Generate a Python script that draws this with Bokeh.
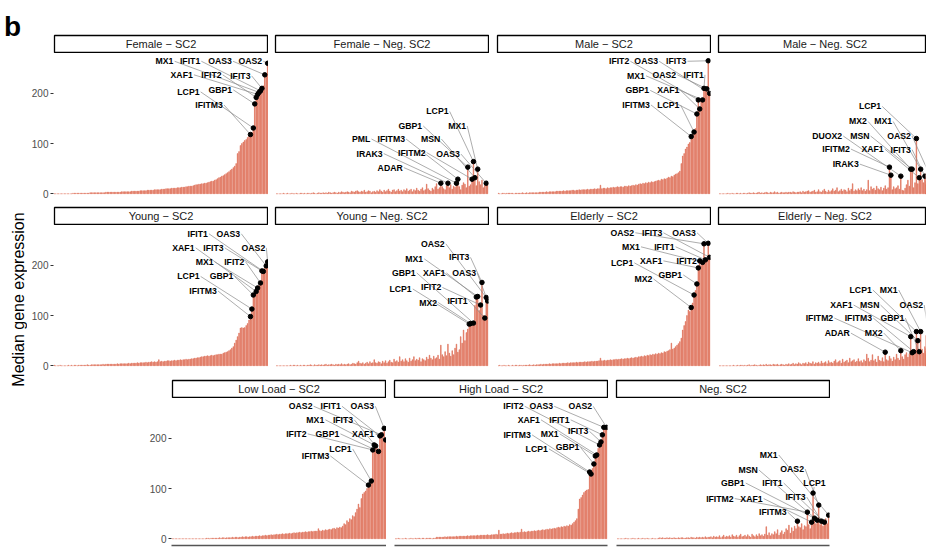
import math
from bokeh.plotting import figure
from bokeh.layouts import row, column
from bokeh.models import Range1d, FixedTicker, LinearAxis, Spacer, Label
from bokeh.core.properties import value
from bokeh.embed import file_html
from bokeh.resources import INLINE

N_GENES = 150
bar_index = list(range(1, N_GENES + 1))
y_ticks = [0, 100, 200]

# ---------------- data (median expression per gene, ordered as in the figure) -------------
female_sc2_vals = [
    0, 0, 0, 0, 0, 0, 0, 0, 0, 0,
    0, 0, 0, 1, 1, 1, 1, 1, 1, 1,
    1, 1, 1, 1, 1, 2, 2, 2, 2, 2,
    2, 2, 2, 2, 2, 2, 3, 3, 3, 3,
    3, 3, 3, 3, 3, 3, 3, 4, 4, 4,
    4, 4, 4, 4, 5, 5, 5, 5, 5, 5,
    6, 6, 6, 6, 6, 7, 7, 7, 7, 7,
    8, 8, 8, 8, 8, 9, 9, 9, 10, 10,
    10, 10, 11, 11, 11, 11, 12, 12, 12, 13,
    13, 13, 14, 14, 15, 15, 15, 16, 17, 18,
    18, 19, 19, 20, 20, 21, 21, 22, 23, 24,
    25, 25, 27, 28, 30, 32, 33, 35, 36, 38,
    40, 42, 44, 47, 49, 52, 55, 60, 80, 84,
    96, 100, 103, 106, 108, 112, 115, 118, 122, 131,
    179, 192, 198, 202, 205, 210, 215, 237, 240, 260]
female_sc2_genes = ["MX1", "IFIT1", "OAS3", "OAS2", "XAF1", "IFIT2", "IFIT3", "LCP1", "GBP1", "IFITM3"]
female_sc2_gene_bar = [144, 145, 148, 150, 143, 142, 146, 140, 141, 138]

female_neg_vals = [
    0, 0, 0, 0, 0, 1, 0, 0, 1, 0,
    0, 1, 0, 0, 1, 0, 0, 1, 1, 0,
    1, 0, 1, 1, 0, 1, 2, 1, 0, 1,
    2, 1, 1, 2, 1, 2, 1, 3, 2, 1,
    2, 3, 2, 1, 3, 2, 4, 3, 2, 3,
    4, 3, 2, 5, 4, 3, 5, 6, 4, 3,
    5, 4, 7, 3, 4, 6, 5, 2, 4, 5,
    3, 6, 4, 8, 5, 3, 7, 4, 6, 9,
    5, 3, 7, 8, 4, 6, 9, 5, 7, 4,
    8, 6, 10, 5, 7, 9, 4, 8, 6, 11,
    7, 5, 9, 12, 6, 8, 19, 10, 7, 5,
    11, 8, 14, 20, 9, 12, 21, 14, 10, 8,
    16, 21, 12, 18, 9, 15, 13, 21, 29, 14,
    8, 17, 22, 19, 12, 53, 15, 18, 29, 64,
    32, 16, 49, 24, 18, 27, 12, 20, 21, 22]
female_neg_genes = ["LCP1", "GBP1", "MX1", "PML", "IFITM3", "MSN", "IRAK3", "IFITM2", "OAS3", "ADAR"]
female_neg_gene_bar = [140, 136, 143, 128, 129, 141, 122, 139, 149, 117]

male_sc2_vals = [
    1, 0, 0, 1, 1, 0, 1, 1, 1, 1,
    1, 0, 1, 1, 1, 1, 1, 2, 1, 1,
    2, 1, 2, 2, 2, 2, 2, 2, 2, 3,
    3, 3, 3, 3, 4, 3, 4, 4, 4, 4,
    4, 5, 5, 5, 5, 5, 6, 5, 6, 6,
    6, 6, 7, 7, 6, 7, 7, 8, 7, 8,
    8, 8, 8, 9, 8, 9, 9, 9, 10, 9,
    10, 10, 17, 10, 11, 11, 10, 12, 11, 12,
    12, 13, 12, 13, 14, 13, 14, 14, 13, 15,
    15, 14, 16, 15, 16, 17, 16, 18, 17, 19,
    20, 19, 21, 20, 22, 21, 23, 22, 24, 23,
    24, 25, 26, 27, 26, 29, 28, 30, 29, 31,
    33, 32, 35, 34, 37, 39, 40, 42, 45, 60,
    75, 80, 89, 93, 99, 102, 114, 118, 123, 130,
    159, 187, 169, 185, 187, 210, 205, 209, 265, 200]
male_sc2_genes = ["IFIT2", "OAS3", "IFIT3", "MX1", "OAS2", "IFIT1", "GBP1", "XAF1", "IFITM3", "LCP1"]
male_sc2_gene_bar = [142, 150, 149, 145, 148, 146, 141, 143, 137, 139]

male_neg_vals = [
    0, 0, 0, 0, 0, 0, 1, 0, 0, 1,
    0, 0, 1, 1, 0, 1, 0, 1, 1, 0,
    1, 2, 1, 1, 2, 1, 1, 2, 3, 1,
    2, 1, 2, 3, 2, 1, 3, 2, 2, 4,
    2, 3, 1, 2, 3, 2, 2, 3, 2, 3,
    3, 2, 4, 3, 2, 3, 3, 4, 2, 5,
    3, 4, 5, 6, 3, 4, 5, 7, 3, 4,
    8, 4, 3, 6, 9, 5, 3, 7, 4, 6,
    10, 5, 7, 12, 4, 6, 9, 5, 8, 7,
    4, 11, 6, 9, 20, 5, 8, 6, 10, 7,
    12, 6, 9, 5, 8, 27, 6, 14, 9, 11,
    7, 15, 10, 8, 13, 6, 11, 16, 9, 12,
    53, 37, 8, 14, 10, 12, 16, 9, 35, 7,
    6, 11, 18, 27, 15, 49, 49, 12, 22, 110,
    20, 32, 49, 28, 22, 35, 18, 25, 40, 30]
male_neg_genes = ["LCP1", "MX2", "MX1", "DUOX2", "MSN", "OAS2", "IFITM2", "XAF1", "IFIT3", "IRAK3"]
male_neg_gene_bar = [140, 136, 143, 129, 137, 149, 121, 142, 146, 122]

young_sc2_vals = [
    1, 0, 0, 0, 1, 0, 0, 0, 0, 0,
    1, 0, 1, 0, 1, 1, 0, 1, 1, 1,
    1, 1, 1, 2, 1, 1, 2, 2, 2, 2,
    2, 2, 2, 2, 3, 2, 3, 3, 3, 3,
    3, 3, 3, 3, 4, 3, 4, 4, 4, 4,
    4, 4, 5, 4, 5, 5, 5, 5, 6, 5,
    6, 6, 6, 6, 7, 6, 7, 7, 8, 7,
    8, 7, 8, 12, 8, 9, 8, 9, 9, 10,
    10, 9, 10, 10, 11, 10, 11, 11, 12, 11,
    12, 12, 13, 12, 13, 13, 14, 14, 15, 15,
    16, 16, 17, 18, 18, 19, 19, 20, 19, 20,
    21, 20, 21, 22, 22, 23, 23, 23, 25, 26,
    27, 28, 30, 32, 35, 38, 45, 51, 58, 65,
    75, 76, 75, 76, 80, 84, 91, 98, 113, 141,
    145, 148, 155, 160, 165, 189, 188, 195, 199, 207]
young_sc2_genes = ["IFIT1", "OAS3", "XAF1", "IFIT3", "OAS2", "MX1", "IFIT2", "LCP1", "GBP1", "IFITM3"]
young_sc2_gene_bar = [147, 149, 142, 146, 150, 143, 145, 139, 140, 138]

young_neg_vals = [
    0, 0, 0, 0, 0, 0, 0, 0, 0, 0,
    1, 0, 1, 1, 0, 1, 0, 1, 0, 1,
    1, 0, 1, 1, 2, 1, 0, 2, 1, 1,
    2, 1, 2, 1, 2, 3, 1, 2, 2, 3,
    2, 1, 3, 2, 3, 2, 4, 2, 3, 2,
    3, 4, 2, 3, 5, 4, 3, 6, 9, 5,
    4, 6, 3, 5, 7, 4, 8, 5, 6, 12,
    6, 5, 8, 7, 4, 9, 6, 10, 5, 8,
    11, 7, 6, 13, 8, 10, 7, 18, 9, 12,
    8, 14, 10, 7, 15, 9, 12, 18, 10, 13,
    11, 16, 8, 14, 12, 10, 17, 13, 21, 15,
    12, 19, 14, 16, 21, 13, 41, 22, 18, 28,
    20, 43, 25, 19, 30, 22, 35, 43, 27, 32,
    58, 45, 71, 50, 66, 73, 83, 84, 80, 85,
    120, 137, 138, 110, 121, 166, 100, 95, 136, 129]
young_neg_genes = ["OAS2", "IFIT3", "MX1", "GBP1", "XAF1", "OAS3", "LCP1", "IFIT2", "MX2", "IFIT1"]
young_neg_gene_bar = [149, 146, 143, 140, 142, 150, 137, 145, 138, 148]

elderly_sc2_vals = [
    0, 1, 0, 0, 1, 0, 0, 1, 0, 0,
    1, 0, 1, 1, 0, 1, 1, 0, 1, 1,
    1, 1, 2, 1, 1, 2, 1, 2, 2, 2,
    3, 2, 3, 3, 3, 3, 4, 3, 4, 4,
    4, 4, 4, 5, 4, 5, 5, 5, 5, 6,
    5, 6, 6, 6, 6, 7, 6, 7, 7, 7,
    7, 8, 7, 8, 8, 8, 9, 8, 9, 9,
    9, 10, 15, 10, 10, 11, 10, 11, 11, 12,
    11, 12, 12, 13, 12, 13, 13, 14, 13, 14,
    14, 15, 14, 15, 16, 15, 16, 17, 16, 18,
    18, 19, 18, 20, 19, 21, 20, 22, 21, 23,
    22, 24, 23, 25, 24, 26, 25, 28, 27, 29,
    30, 32, 45, 33, 35, 38, 41, 44, 48, 55,
    71, 80, 88, 100, 111, 108, 116, 125, 141, 150,
    163, 195, 209, 200, 206, 243, 211, 215, 244, 216]
elderly_sc2_genes = ["OAS2", "IFIT3", "OAS3", "MX1", "IFIT1", "XAF1", "IFIT2", "LCP1", "GBP1", "MX2"]
elderly_sc2_gene_bar = [146, 150, 149, 145, 147, 142, 143, 139, 141, 137]

elderly_neg_vals = [
    0, 0, 0, 0, 0, 0, 0, 0, 0, 0,
    1, 0, 0, 1, 0, 1, 1, 0, 1, 0,
    1, 2, 0, 1, 1, 2, 1, 0, 1, 2,
    1, 2, 1, 3, 1, 2, 2, 1, 3, 2,
    2, 3, 1, 2, 3, 2, 1, 3, 2, 4,
    2, 3, 5, 2, 4, 3, 6, 4, 2, 5,
    4, 6, 3, 7, 5, 4, 8, 3, 6, 5,
    7, 4, 9, 5, 6, 8, 4, 10, 6, 7,
    5, 9, 12, 6, 8, 10, 5, 13, 7, 9,
    11, 6, 15, 8, 10, 12, 7, 9, 14, 8,
    10, 6, 12, 9, 23, 15, 8, 11, 22, 10,
    13, 7, 19, 11, 9, 16, 8, 27, 12, 10,
    19, 14, 9, 17, 12, 23, 15, 11, 30, 18,
    13, 22, 26, 17, 24, 58, 26, 28, 30, 68,
    50, 28, 68, 33, 25, 38, 29, 22, 60, 34]
elderly_neg_genes = ["LCP1", "MX1", "XAF1", "MSN", "OAS2", "IFITM2", "IFITM3", "GBP1", "ADAR", "MX2"]
elderly_neg_gene_bar = [140, 143, 136, 141, 149, 137, 138, 142, 118, 129]

low_load_vals = [
    0, 0, 0, 0, 0, 0, 0, 0, 0, 0,
    0, 0, 0, 0, 0, 0, 0, 0, 0, 0,
    0, 0, 0, 0, 1, 1, 0, 1, 1, 1,
    1, 1, 1, 2, 1, 2, 2, 1, 2, 2,
    2, 2, 3, 2, 3, 3, 2, 3, 3, 4,
    3, 4, 4, 3, 4, 4, 5, 4, 5, 5,
    5, 6, 5, 6, 6, 7, 6, 7, 7, 8,
    7, 8, 8, 9, 8, 9, 9, 10, 9, 10,
    10, 10, 11, 10, 11, 12, 11, 12, 12, 13,
    12, 13, 13, 14, 13, 14, 14, 15, 14, 15,
    15, 15, 20, 16, 15, 17, 16, 18, 17, 18,
    19, 18, 20, 21, 19, 22, 21, 23, 22, 25,
    30, 28, 36, 33, 40, 38, 46, 44, 52, 59,
    69, 62, 80, 89, 92, 95, 100, 107, 110, 115,
    177, 187, 185, 180, 174, 205, 207, 212, 220, 197]
low_load_genes = ["OAS2", "IFIT1", "OAS3", "MX1", "IFIT3", "IFIT2", "GBP1", "XAF1", "LCP1", "IFITM3"]
low_load_gene_bar = [147, 146, 149, 142, 143, 141, 145, 150, 140, 138]

high_load_vals = [
    0, 0, 1, 0, 0, 0, 0, 1, 0, 0,
    0, 1, 0, 0, 1, 0, 1, 1, 0, 1,
    1, 0, 1, 1, 1, 1, 0, 1, 1, 3,
    3, 3, 3, 3, 3, 4, 3, 4, 4, 4,
    4, 4, 4, 5, 4, 5, 5, 5, 5, 5,
    5, 6, 5, 6, 6, 6, 6, 6, 7, 6,
    7, 7, 7, 7, 7, 8, 7, 7, 8, 8,
    8, 9, 8, 17, 9, 9, 10, 9, 10, 11,
    10, 11, 12, 11, 12, 12, 13, 12, 13, 19,
    13, 14, 13, 14, 15, 14, 15, 15, 16, 15,
    16, 17, 16, 17, 18, 17, 18, 19, 18, 20,
    19, 20, 21, 20, 22, 23, 22, 24, 23, 25,
    24, 26, 25, 28, 27, 30, 33, 36, 40, 59,
    79, 82, 87, 92, 95, 97, 98, 133, 129, 140,
    149, 165, 167, 180, 187, 193, 207, 222, 220, 222]
high_load_genes = ["IFIT2", "OAS3", "OAS2", "XAF1", "IFIT1", "IFIT3", "IFITM3", "MX1", "LCP1", "GBP1"]
high_load_gene_bar = [145, 148, 150, 143, 147, 146, 138, 142, 139, 141]

neg_sc2_vals = [
    0, 0, 0, 0, 0, 0, 1, 0, 0, 0,
    0, 1, 0, 0, 0, 1, 0, 0, 1, 0,
    0, 1, 0, 0, 0, 1, 0, 0, 0, 1,
    2, 1, 2, 1, 1, 2, 1, 2, 1, 1,
    2, 1, 1, 2, 1, 2, 2, 1, 1, 2,
    2, 1, 3, 2, 2, 1, 3, 2, 3, 2,
    3, 2, 4, 2, 3, 3, 4, 2, 5, 3,
    4, 3, 6, 2, 4, 7, 3, 5, 4, 6,
    3, 8, 5, 4, 7, 3, 6, 9, 4, 5,
    7, 4, 8, 5, 3, 9, 6, 4, 8, 5,
    10, 6, 8, 5, 9, 24, 7, 12, 6, 10,
    8, 14, 10, 18, 7, 12, 16, 9, 13, 20,
    17, 27, 11, 22, 15, 25, 20, 35, 24, 22,
    30, 18, 26, 24, 53, 28, 20, 33, 91, 41,
    30, 37, 67, 28, 35, 25, 33, 40, 30, 47]
neg_sc2_genes = ["MX1", "OAS2", "MSN", "LCP1", "GBP1", "IFIT1", "IFITM2", "XAF1", "IFIT3", "IFITM3"]
neg_sc2_gene_bar = [150, 143, 142, 139, 140, 147, 135, 138, 145, 128]

# ---------------- label placement (layout only: right end of text, in axis units) ---------
female_sc2_lab = ([84.2, 102.9, 125.0, 146.2, 97.7, 117.8, 138.0, 102.4, 125.2, 118.7],
                  [264, 264, 264, 264, 237, 237, 235, 203, 207, 177])
female_neg_lab = ([122.4, 103.8, 134.8, 67.3, 91.7, 116.6, 75.9, 106.2, 130.4, 90.1],
                  [164, 135, 135, 109, 109, 109, 80, 82, 79, 52])
male_sc2_lab = ([93.3, 113.6, 133.6, 104.3, 126.4, 145.9, 107.3, 128.7, 107.8, 128.7],
                [264, 264, 264, 235, 237, 237, 206, 206, 177, 177])
male_neg_lab = ([115.1, 105.1, 122.8, 87.6, 106.9, 136.1, 93.0, 116.9, 136.1, 99.3],
                [174, 144, 144, 115, 115, 115, 89, 89, 88, 59])
young_sc2_lab = ([108.2, 130.8, 98.9, 119.2, 148.3, 112.2, 133.8, 102.4, 126.1, 114.5],
                 [263, 263, 235, 235, 235, 207, 207, 178, 178, 149])
young_neg_lab = ([119.7, 137.1, 104.5, 99.2, 120.1, 141.8, 96.4, 117.3, 114.3, 135.9],
                 [243, 216, 213, 185, 185, 185, 153, 156, 126, 130])
elderly_sc2_lab = ([96.8, 116.6, 140.3, 100.8, 125.2, 116.6, 141.0, 96.1, 130.6, 109.6],
                   [265, 265, 265, 237, 237, 209, 209, 205, 181, 173])
elderly_neg_lab = ([108.5, 126.7, 94.9, 113.9, 144.7, 81.3, 108.8, 131.4, 93.0, 116.2],
                   [151, 151, 121, 121, 121, 95, 95, 95, 65, 65])
low_load_lab = ([98.9, 118.7, 142.0, 107.1, 127.3, 94.7, 117.6, 142.0, 126.2, 110.6],
                [264, 264, 264, 237, 237, 209, 209, 209, 179, 165])
high_load_lab = ([91.4, 112.2, 139.7, 102.9, 123.8, 137.1, 96.6, 116.1, 108.5, 130.8],
                 [264, 264, 264, 237, 237, 214, 207, 209, 179, 182])
neg_sc2_lab = ([114.0, 132.6, 100.0, 147.8, 90.7, 117.5, 83.0, 103.4, 133.8, 120.3],
               [167, 139, 137, 111, 111, 111, 80, 80, 83, 53])

panels = [
    ("Female \u2212 SC2", female_sc2_vals, female_sc2_genes, female_sc2_gene_bar, female_sc2_lab),
    ("Female \u2212 Neg. SC2", female_neg_vals, female_neg_genes, female_neg_gene_bar, female_neg_lab),
    ("Male \u2212 SC2", male_sc2_vals, male_sc2_genes, male_sc2_gene_bar, male_sc2_lab),
    ("Male \u2212 Neg. SC2", male_neg_vals, male_neg_genes, male_neg_gene_bar, male_neg_lab),
    ("Young \u2212 SC2", young_sc2_vals, young_sc2_genes, young_sc2_gene_bar, young_sc2_lab),
    ("Young \u2212 Neg. SC2", young_neg_vals, young_neg_genes, young_neg_gene_bar, young_neg_lab),
    ("Elderly \u2212 SC2", elderly_sc2_vals, elderly_sc2_genes, elderly_sc2_gene_bar, elderly_sc2_lab),
    ("Elderly \u2212 Neg. SC2", elderly_neg_vals, elderly_neg_genes, elderly_neg_gene_bar, elderly_neg_lab),
    ("Low Load \u2212 SC2", low_load_vals, low_load_genes, low_load_gene_bar, low_load_lab),
    ("High Load \u2212 SC2", high_load_vals, high_load_genes, high_load_gene_bar, high_load_lab),
    ("Neg. SC2", neg_sc2_vals, neg_sc2_genes, neg_sc2_gene_bar, neg_sc2_lab),
]
for t, v, g, b, l in panels:
    assert len(v) == N_GENES, (t, len(v))

# ---------------- styling ----------------
FONT = "Liberation Sans"
PANEL_W = 215
PANEL_H = 147
STRIP_H = 19
AXIS_W = 26
BOTTOM_AX = 6
BAR_FILL = "#E8907A"
BAR_LINE = "#D9593E"
LAB_SIZE = 8.7


def make_panel(vals, genes, gbar, lab, width=PANEL_W, yaxis=False, xaxis=False):
    x_end = 0.4 + width * (N_GENES + 0.2) / PANEL_W
    p = figure(width=width + (AXIS_W if yaxis else 0),
               height=PANEL_H + (BOTTOM_AX if xaxis else 0),
               x_range=Range1d(0.4, x_end), y_range=Range1d(-13.5, 279.5),
               toolbar_location=None, tools="", output_backend="svg",
               x_axis_location=None, y_axis_location=None,
               min_border=0, min_border_left=(AXIS_W if yaxis else 0),
               min_border_right=0, min_border_top=0,
               min_border_bottom=(BOTTOM_AX if xaxis else 0))
    p.outline_line_color = None
    p.background_fill_color = "white"
    p.border_fill_color = "white"
    p.grid.grid_line_color = None
    p.vbar(x=bar_index, top=vals, bottom=0, width=0.45,
           fill_color=BAR_FILL, line_color=BAR_LINE, line_width=0.5)
    lx, ly = lab
    px = list(gbar)
    py = [vals[i - 1] for i in gbar]
    x0, y0 = [], []
    for g, a, b, cx in zip(genes, lx, ly, px):
        w = 0.66 * LAB_SIZE * len(g) / (PANEL_W / (N_GENES + 0.2))
        if cx >= a - 1:
            x0.append(a + 0.8)
            y0.append(b)
        else:
            x0.append(a - w / 2)
            y0.append(b - 8)
    p.segment(x0=x0, y0=y0, x1=px, y1=py, line_color="#8A8A8A", line_width=0.7)
    p.scatter(x=px, y=py, size=4.5, color="black")
    p.text(x=lx, y=ly, text=genes, text_align="right", text_baseline="middle",
           text_font=value(FONT), text_font_style="bold",
           text_font_size=value(f"{LAB_SIZE}px"), text_color="black")
    if yaxis:
        ax = LinearAxis(ticker=FixedTicker(ticks=y_ticks), axis_line_color=None,
                        major_tick_line_color="#333333", major_tick_out=3, major_tick_in=0,
                        minor_tick_line_color=None, major_label_text_color="#4D4D4D",
                        major_label_text_font=FONT, major_label_text_font_size="10px",
                        major_label_standoff=2)
        p.add_layout(ax, "left")
    if xaxis:
        bx = LinearAxis(ticker=FixedTicker(ticks=[]), axis_line_color="#555555",
                        axis_line_width=1.5, major_tick_line_color=None,
                        minor_tick_line_color=None, major_label_text_font_size="0px",
                        major_tick_out=0, major_tick_in=0, major_label_standoff=0)
        p.add_layout(bx, "below")
    return p


def make_strip(title, width=PANEL_W):
    s = figure(width=width, height=STRIP_H, x_range=Range1d(0, 1), y_range=Range1d(0, 1),
               toolbar_location=None, tools="", output_backend="svg",
               x_axis_location=None, y_axis_location=None, min_border=1)
    s.outline_line_color = "black"
    s.outline_line_width = 1.3
    s.background_fill_color = "white"
    s.border_fill_color = "white"
    s.grid.grid_line_color = None
    s.add_layout(Label(x=min(1.0, (PANEL_W / 2 - 1) / (width - 2)), y=0.5, text=title,
                       text_align="center", text_baseline="middle", text_font=FONT,
                       text_font_size="11px", text_color="#1A1A1A"))
    return s


def cell(k, width=PANEL_W, yaxis=False, xaxis=False):
    title, vals, genes, gbar, lab = panels[k]
    p = make_panel(vals, genes, gbar, lab, width=width, yaxis=yaxis, xaxis=xaxis)
    s = make_strip(title, width=width)
    top = row(Spacer(width=AXIS_W, height=STRIP_H), s) if yaxis else s
    return column(top, p)


LAST_W = 209
row1 = row(cell(0, yaxis=True), Spacer(width=6, height=1), cell(1), Spacer(width=7, height=1),
           cell(2), Spacer(width=6, height=1), cell(3, width=LAST_W))
row2 = row(cell(4, yaxis=True), Spacer(width=6, height=1), cell(5), Spacer(width=7, height=1),
           cell(6), Spacer(width=6, height=1), cell(7, width=LAST_W))
row3 = row(Spacer(width=118, height=1), cell(8, yaxis=True, xaxis=True), Spacer(width=7, height=1),
           cell(9, xaxis=True), Spacer(width=7, height=1), cell(10, xaxis=True))

main = column(Spacer(width=1, height=34), row1, Spacer(width=1, height=6), row2,
              Spacer(width=1, height=7), row3)

LH = 550
LW = 27
left = figure(width=LW, height=LH, x_range=Range1d(0, LW), y_range=Range1d(0, LH),
              toolbar_location=None, tools="", output_backend="svg",
              x_axis_location=None, y_axis_location=None, min_border=0)
left.outline_line_color = None
left.grid.grid_line_color = None
left.add_layout(Label(x=3.5, y=LH - 26, text="b", text_font=FONT, text_font_style="bold",
                      text_font_size="28px", text_align="left", text_baseline="alphabetic",
                      text_color="black"))
left.add_layout(Label(x=18, y=LH - 299, text="Median gene expression", angle=math.pi / 2,
                      text_font=FONT, text_font_size="16px", text_align="center",
                      text_baseline="middle", text_color="black"))

layout = row(left, main)

open("out.html", "w").write(file_html(layout, INLINE))
